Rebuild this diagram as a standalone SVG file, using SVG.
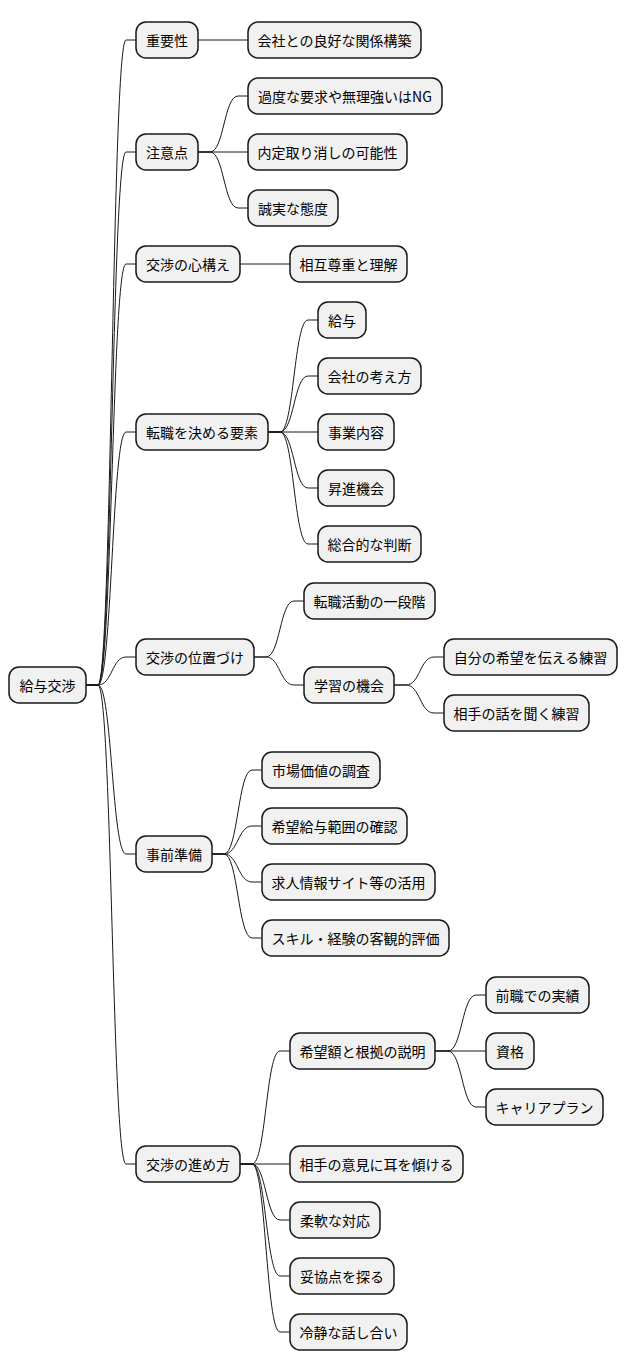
<svg xmlns="http://www.w3.org/2000/svg" width="628" height="1372" viewBox="0 0 628 1372">
<style>
.n rect{fill:#F1F1F1;stroke:#181818;stroke-width:1.5}
.n text{font-family:"Noto Sans CJK JP","Noto Sans",sans-serif;font-size:14px;fill:#000;text-anchor:middle;dominant-baseline:central}
#c path{fill:none;stroke:#181818;stroke-width:1}
</style>
<rect width="628" height="1372" fill="#fff"/>
<g id="c">
<path d="M86,685 L98,685 C112,685 112,40 126,40 L136,40"/>
<path d="M86,685 L98,685 C112,685 112,152 126,152 L136,152"/>
<path d="M86,685 L98,685 C112,685 112,264 126,264 L136,264"/>
<path d="M86,685 L98,685 C112,685 112,432 126,432 L136,432"/>
<path d="M86,685 L98,685 C112,685 112,657 126,657 L136,657"/>
<path d="M86,685 L98,685 C112,685 112,854 126,854 L136,854"/>
<path d="M86,685 L98,685 C112,685 112,1164 126,1164 L136,1164"/>
<path d="M198,40 L248,40"/>
<path d="M198,152 L210,152 C224,152 224,96 238,96 L248,96"/>
<path d="M198,152 L248,152"/>
<path d="M198,152 L210,152 C224,152 224,208 238,208 L248,208"/>
<path d="M240,264 L290,264"/>
<path d="M268,432 L280,432 C294,432 294,320 308,320 L318,320"/>
<path d="M268,432 L280,432 C294,432 294,376 308,376 L318,376"/>
<path d="M268,432 L318,432"/>
<path d="M268,432 L280,432 C294,432 294,488 308,488 L318,488"/>
<path d="M268,432 L280,432 C294,432 294,544 308,544 L318,544"/>
<path d="M254,657 L266,657 C280,657 280,601 294,601 L304,601"/>
<path d="M254,657 L266,657 C280,657 280,685 294,685 L304,685"/>
<path d="M394,685 L406,685 C420,685 420,657 434,657 L444,657"/>
<path d="M394,685 L406,685 C420,685 420,713 434,713 L444,713"/>
<path d="M212,854 L224,854 C238,854 238,770 252,770 L262,770"/>
<path d="M212,854 L224,854 C238,854 238,826 252,826 L262,826"/>
<path d="M212,854 L224,854 C238,854 238,882 252,882 L262,882"/>
<path d="M212,854 L224,854 C238,854 238,938 252,938 L262,938"/>
<path d="M240,1164 L252,1164 C266,1164 266,1051 280,1051 L290,1051"/>
<path d="M240,1164 L290,1164"/>
<path d="M240,1164 L252,1164 C266,1164 266,1220 280,1220 L290,1220"/>
<path d="M240,1164 L252,1164 C266,1164 266,1276 280,1276 L290,1276"/>
<path d="M240,1164 L252,1164 C266,1164 266,1332 280,1332 L290,1332"/>
<path d="M435,1051 L448,1051 C462,1051 462,995 476,995 L486,995"/>
<path d="M435,1051 L486,1051"/>
<path d="M435,1051 L448,1051 C462,1051 462,1107 476,1107 L486,1107"/>
</g>
<g id="root" class="n"><rect x="9" y="667" width="77" height="36" rx="10"/><text x="47.5" y="685">給与交渉</text></g>
<g id="n1" class="n"><rect x="136" y="22" width="62" height="36" rx="10"/><text x="167" y="40">重要性</text></g>
<g id="n1a" class="n"><rect x="248" y="22" width="173" height="36" rx="10"/><text x="334.5" y="40">会社との良好な関係構築</text></g>
<g id="n2" class="n"><rect x="136" y="134" width="62" height="36" rx="10"/><text x="167" y="152">注意点</text></g>
<g id="n2a" class="n"><rect x="248" y="78" width="194" height="36" rx="10"/><text x="345" y="96">過度な要求や無理強いはNG</text></g>
<g id="n2b" class="n"><rect x="248" y="134" width="159" height="36" rx="10"/><text x="327.5" y="152">内定取り消しの可能性</text></g>
<g id="n2c" class="n"><rect x="248" y="190" width="90" height="36" rx="10"/><text x="293" y="208">誠実な態度</text></g>
<g id="n3" class="n"><rect x="136" y="246" width="104" height="36" rx="10"/><text x="188" y="264">交渉の心構え</text></g>
<g id="n3a" class="n"><rect x="290" y="246" width="117" height="36" rx="10"/><text x="348.5" y="264">相互尊重と理解</text></g>
<g id="n4" class="n"><rect x="136" y="414" width="132" height="36" rx="10"/><text x="202" y="432">転職を決める要素</text></g>
<g id="n4a" class="n"><rect x="318" y="302" width="48" height="36" rx="10"/><text x="342" y="320">給与</text></g>
<g id="n4b" class="n"><rect x="318" y="358" width="103" height="36" rx="10"/><text x="369.5" y="376">会社の考え方</text></g>
<g id="n4c" class="n"><rect x="318" y="414" width="76" height="36" rx="10"/><text x="356" y="432">事業内容</text></g>
<g id="n4d" class="n"><rect x="318" y="470" width="76" height="36" rx="10"/><text x="356" y="488">昇進機会</text></g>
<g id="n4e" class="n"><rect x="318" y="526" width="103" height="36" rx="10"/><text x="369.5" y="544">総合的な判断</text></g>
<g id="n5" class="n"><rect x="136" y="639" width="118" height="36" rx="10"/><text x="195" y="657">交渉の位置づけ</text></g>
<g id="n5a" class="n"><rect x="304" y="583" width="131" height="36" rx="10"/><text x="369.5" y="601">転職活動の一段階</text></g>
<g id="n5b" class="n"><rect x="304" y="667" width="90" height="36" rx="10"/><text x="349" y="685">学習の機会</text></g>
<g id="n5b1" class="n"><rect x="444" y="639" width="173" height="36" rx="10"/><text x="530.5" y="657">自分の希望を伝える練習</text></g>
<g id="n5b2" class="n"><rect x="444" y="695" width="145" height="36" rx="10"/><text x="516.5" y="713">相手の話を聞く練習</text></g>
<g id="n6" class="n"><rect x="136" y="836" width="76" height="36" rx="10"/><text x="174" y="854">事前準備</text></g>
<g id="n6a" class="n"><rect x="262" y="752" width="118" height="36" rx="10"/><text x="321" y="770">市場価値の調査</text></g>
<g id="n6b" class="n"><rect x="262" y="808" width="145" height="36" rx="10"/><text x="334.5" y="826">希望給与範囲の確認</text></g>
<g id="n6c" class="n"><rect x="262" y="864" width="173" height="36" rx="10"/><text x="348.5" y="882">求人情報サイト等の活用</text></g>
<g id="n6d" class="n"><rect x="262" y="920" width="187" height="36" rx="10"/><text x="355.5" y="938">スキル・経験の客観的評価</text></g>
<g id="n7" class="n"><rect x="136" y="1146" width="104" height="36" rx="10"/><text x="188" y="1164">交渉の進め方</text></g>
<g id="n7a" class="n"><rect x="290" y="1033" width="145" height="36" rx="10"/><text x="362.5" y="1051">希望額と根拠の説明</text></g>
<g id="n7a1" class="n"><rect x="486" y="977" width="103" height="36" rx="10"/><text x="537.5" y="995">前職での実績</text></g>
<g id="n7a2" class="n"><rect x="486" y="1033" width="48" height="36" rx="10"/><text x="510" y="1051">資格</text></g>
<g id="n7a3" class="n"><rect x="486" y="1089" width="117" height="36" rx="10"/><text x="544.5" y="1107">キャリアプラン</text></g>
<g id="n7b" class="n"><rect x="290" y="1146" width="173" height="36" rx="10"/><text x="376.5" y="1164">相手の意見に耳を傾ける</text></g>
<g id="n7c" class="n"><rect x="290" y="1202" width="90" height="36" rx="10"/><text x="335" y="1220">柔軟な対応</text></g>
<g id="n7d" class="n"><rect x="290" y="1258" width="104" height="36" rx="10"/><text x="342" y="1276">妥協点を探る</text></g>
<g id="n7e" class="n"><rect x="290" y="1314" width="117" height="36" rx="10"/><text x="348.5" y="1332">冷静な話し合い</text></g>
</svg>
